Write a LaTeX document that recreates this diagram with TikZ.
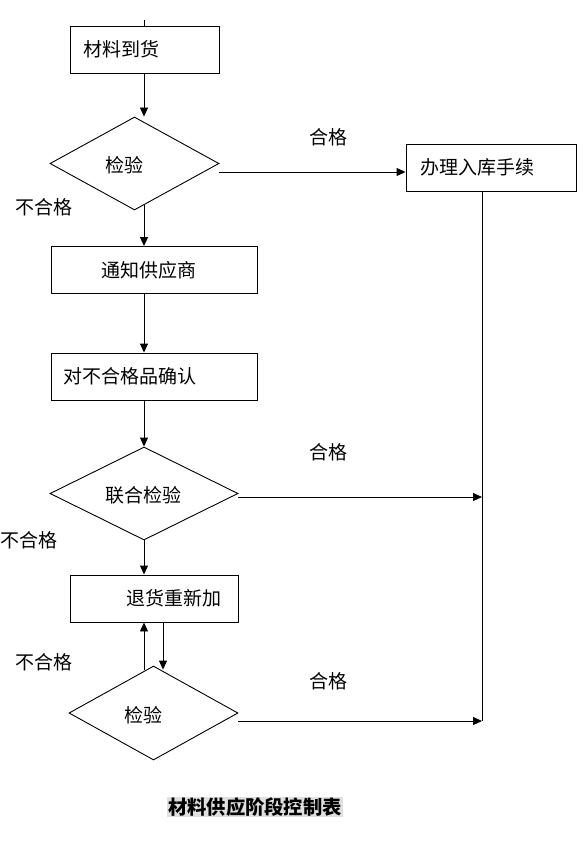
\documentclass[tikz,border=0pt]{standalone}
\usepackage{fontspec}
\newfontfamily\cjk{Noto Sans CJK SC}
\usetikzlibrary{arrows.meta,shapes.geometric,calc}
\begin{document}
\begin{tikzpicture}[x=1pt,y=-1pt,
  every node/.style={font=\cjk\fontsize{19pt}{21pt}\selectfont},
  stepbox/.style={draw,line width=0.9pt,rectangle,minimum height=47pt,inner ysep=0pt,align=left},
  decide/.style={draw,line width=0.9pt,diamond,inner sep=0pt},
  lbl/.style={inner sep=0pt},
  arr/.style={line width=0.9pt,-{Triangle[length=9pt,width=8pt]}},
  ln/.style={line width=0.9pt}]
\useasboundingbox (0,0) rectangle (583,853);
\fill[white] (0,0) rectangle (583,853);
\coordinate (colA) at (144,0);
\coordinate (colB) at (163,0);
\coordinate (colR) at (482,0);
% boxes
\node[stepbox,text width=123pt,inner xsep=13pt] (box1) at (144.5,49.5) {材料到货};
\node[stepbox,text width=142pt,inner xsep=14pt] (box2) at (491,167.5) {办理入库手续};
\node[stepbox,text width=106pt,inner xsep=50pt] (box3) at (154,270) {通知供应商};
\node[stepbox,text width=182pt,inner xsep=12pt] (box4) at (154,376.5) {对不合格品确认};
\node[stepbox,text width=56pt,inner xsep=56pt] (box5) at (154,598.5) {退货重新加};
% diamonds
\node[decide,minimum width=169pt,minimum height=93pt] (d1) at (134.5,163.5) {};
\node[lbl] (t1) at (124,165) {检验};
\node[decide,minimum width=188pt,minimum height=93pt] (d2) at (144,493.5) {};
\node[lbl] (t2) at (143,495) {联合检验};
\node[decide,minimum width=169pt,minimum height=94pt] (d3) at (153.5,713) {};
\node[lbl] (t3) at (143,715) {检验};
% labels
\node[lbl] (ok1) at (328,137) {合格};
\node[lbl] (ok2) at (328,452) {合格};
\node[lbl] (ok3) at (328,681) {合格};
\node[lbl] (ng1) at (44,207) {不合格};
\node[lbl] (ng2) at (29,540) {不合格};
\node[lbl] (ng3) at (44,662) {不合格};
\node[inner xsep=1pt,inner ysep=1pt,fill=black!12,font=\cjk\bfseries\fontsize{19.3pt}{21pt}\selectfont] (title) at (255,807) {材料供应阶段控制表};
% connectors
\draw[ln] (box1.north -| colA) -- ++(0,-6) coordinate (top);
\draw[arr] (box1.south -| colA) -- (d1.north -| colA);
\draw[arr] ($(d1.south -| colA)+(0,-5)$) -- (box3.north -| colA);
\draw[arr] (box3.south -| colA) -- (box4.north -| colA);
\draw[arr] (box4.south -| colA) -- (d2.north -| colA);
\draw[arr] (d2.south -| colA) -- (box5.north -| colA);
\draw[arr] ($(d3.north -| colA)+(0,4.5)$) -- (box5.south -| colA);
\draw[arr] (box5.south -| colB) -- ($(d3.north -| colB)+(0,4)$);
\draw[arr] ($(d1.east)+(0,8.5)$) coordinate (p1) -- (p1 -| box2.west);
\draw[arr] ($(d2.east)+(0,3.5)$) coordinate (p2) -- (p2 -| colR);
\draw[arr] ($(d3.east)+(0,8)$) coordinate (p3) -- (p3 -| colR);
\draw[ln] (box2.south -| colR) -- (p3 -| colR);
\end{tikzpicture}
\end{document}
